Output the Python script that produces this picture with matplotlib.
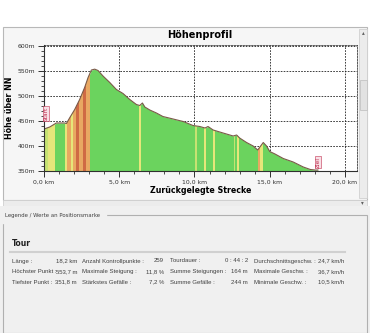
import numpy as np
import matplotlib.pyplot as plt
from matplotlib.ticker import MultipleLocator, FuncFormatter
from matplotlib.patches import Rectangle

# Höhenprofil der Tour
dist_km = [0.0, 0.38, 0.82, 1.37, 1.49, 1.7, 2.04, 2.37, 2.7, 2.93, 3.15, 3.37,
           3.59, 3.92, 4.37, 4.81, 5.25, 5.7, 6.14, 6.36, 6.54, 6.7, 7.03, 7.47,
           7.9, 8.58, 9.25, 9.9, 10.35, 10.7, 10.9, 11.24, 11.9, 12.57, 12.8,
           13.0, 13.46, 13.9, 14.2, 14.57, 14.79, 15.0, 15.35, 15.9, 16.56,
           17.23, 17.7, 18.07, 18.2]
hoehe_m = [434, 438, 446, 446, 445, 456, 473, 493, 517, 537, 552, 553.7,
           551, 540, 527, 513, 505, 493, 483, 481, 486, 478, 472, 466,
           459, 454, 449, 441, 439, 436, 439, 432, 426, 420, 422,
           416, 407, 400, 392, 407, 400, 389, 384, 375, 368,
           358, 353, 351.8, 352]

# Steigungsabschnitte: Start, Ende, Klasse (0 = sehr leicht ... 3 = steil)
abschnitt_von = [0.05, 0.27, 1.38, 1.5, 1.82, 1.93, 2.15, 2.33, 2.6, 2.82,
                 6.32, 10.03, 10.6, 11.22, 12.65, 12.8, 14.22, 14.35]
abschnitt_bis = [0.27, 0.7, 1.5, 1.82, 1.93, 2.15, 2.33, 2.6, 2.82, 3.04,
                 6.47, 10.15, 10.75, 11.34, 12.72, 12.93, 14.35, 14.57]
abschnitt_klasse = [0, 1, 1, 2, 1, 2, 3, 2, 3, 2,
                    1, 0, 1, 1, 0, 1, 2, 1]
klassen_farbe = {0: '#c6e272', 1: '#e6e67a', 2: '#e8a862', 3: '#cf6a44'}

# Tourwerte (Legende)
werte_zeilen = [
    ['Länge :', '18,2 km', 'Anzahl Kontrollpunkte :', '259',
     'Tourdauer :', '0 : 44 : 2', 'Durchschnittsgeschw. :', '24,7 km/h'],
    ['Höchster Punkt :', '553,7 m', 'Maximale Steigung :', '11,8 %',
     'Summe Steigungen :', '164 m', 'Maximale Geschw. :', '36,7 km/h'],
    ['Tiefster Punkt :', '351,8 m', 'Stärkstes Gefälle :', '7,2 %',
     'Summe Gefälle :', '244 m', 'Minimale Geschw. :', '10,5 km/h'],
]

W, H = 370, 333
fig = plt.figure(figsize=(W / 100, H / 100), dpi=100)
fig.patch.set_facecolor('white')

def px(x, y, w, h):
    return [x / W, 1 - (y + h) / H, w / W, h / H]

# Rahmen der Panels
bg = fig.add_axes([0, 0, 1, 1])
bg.set_xlim(0, W)
bg.set_ylim(H, 0)
bg.axis('off')
bg.add_patch(Rectangle((3, 27), 364, 173, facecolor='#f6f6f6', edgecolor='#b8b8b8', lw=0.8))
bg.add_patch(Rectangle((359, 29), 8, 169, facecolor='#ececec', edgecolor='#d0d0d0', lw=0.6))
bg.add_patch(Rectangle((359.5, 80), 7, 30, facecolor='#e2e2e2', edgecolor='#c4c4c4', lw=0.6))
bg.text(363, 33, '▴', fontsize=4, ha='center', va='center', color='#606060')
bg.add_patch(Rectangle((3, 200), 364, 6, facecolor='#ececec', edgecolor='#d0d0d0', lw=0.6))
bg.text(362, 203, '▾', fontsize=4, ha='center', va='center', color='#606060')
bg.add_patch(Rectangle((0, 206), W, 127, facecolor='#f0f0f0', edgecolor='none'))
bg.add_patch(Rectangle((3, 215), 364, 118, facecolor='#f0f0f0', edgecolor='#b0b0b0', lw=0.8))
bg.text(5, 215, 'Legende / Werte an Positionsmarke', fontsize=3.9, va='center',
        color='#404040', backgroundcolor='#f0f0f0')
bg.text(12, 243, 'Tour', fontsize=5.5, fontweight='bold', va='center', color='#202020')
bg.plot([10, 345], [252, 252], color='#d0d0d0', lw=1.5)

spalten_links = [12, 82, 170, 254]
spalten_rechts = [77, 164, 248, 344]
for i, zeile in enumerate(werte_zeilen):
    y = 261 + i * 10.5
    for s in range(4):
        bg.text(spalten_links[s], y, zeile[2 * s], fontsize=4.3, family='Liberation Sans',
                va='center', color='#404040')
        bg.text(spalten_rechts[s], y, zeile[2 * s + 1], fontsize=4.3, family='Liberation Sans',
                va='center', ha='right', color='#404040')

bg.text(200, 35, 'Höhenprofil', fontsize=7, fontweight='bold', ha='center', va='center')

# Diagramm
ax = fig.add_axes(px(44, 45, 313, 126))
ax.set_facecolor('white')
ax.set_xlim(0, 20.8)
ax.set_ylim(350, 602)

flaeche = ax.fill_between(dist_km, hoehe_m, 350, color='#6bd35e', lw=0, zorder=2)
clip = flaeche.get_paths()[0]
for von, bis, k in zip(abschnitt_von, abschnitt_bis, abschnitt_klasse):
    band = ax.axvspan(von, bis, color=klassen_farbe[k], lw=0, zorder=3)
    band.set_clip_path(clip, ax.transData)
ax.plot(dist_km, hoehe_m, color='#7a5a48', lw=0.8, zorder=4)

ax.xaxis.set_major_locator(MultipleLocator(5))
ax.xaxis.set_minor_locator(MultipleLocator(1))
ax.yaxis.set_major_locator(MultipleLocator(50))
ax.yaxis.set_minor_locator(MultipleLocator(10))
ax.xaxis.set_major_formatter(FuncFormatter(lambda v, p: f'{v:.1f} km'.replace('.', ',')))
ax.yaxis.set_major_formatter(FuncFormatter(lambda v, p: f'{v:.0f}m'))
ax.tick_params(which='major', length=4, width=0.7, labelsize=4.4, pad=2, colors='#303030')
ax.tick_params(which='minor', length=2, width=0.6, colors='#303030')
ax.grid(True, which='major', color='#202020', ls=(0, (2, 1.5)), lw=0.6, zorder=5)
for s in ['left', 'bottom']:
    ax.spines[s].set_color('#303030')
    ax.spines[s].set_linewidth(0.8)
    ax.spines[s].set_zorder(6)
for s in ['top', 'right']:
    ax.spines[s].set_linestyle((0, (2, 1.5)))
    ax.spines[s].set_linewidth(0.6)
    ax.spines[s].set_color('#404040')

ax.set_xlabel('Zurückgelegte Strecke', fontsize=5.7, fontweight='bold', labelpad=1.5)
ax.set_ylabel('Höhe über NN', fontsize=5.7, fontweight='bold', labelpad=3)

ax.text(0.15, 465, 'Start', rotation=90, fontsize=4.2, color='#c03050', ha='center', va='center',
        zorder=7, bbox=dict(boxstyle='square,pad=0.1', fc='#f8e0e6', ec='#c03050', lw=0.4))
ax.text(18.2, 368, 'Ziel', rotation=90, fontsize=4.2, color='#c03050', ha='center', va='center',
        zorder=7, bbox=dict(boxstyle='square,pad=0.1', fc='#f8e0e6', ec='#c03050', lw=0.4))

fig.savefig('out.png', dpi=100)
